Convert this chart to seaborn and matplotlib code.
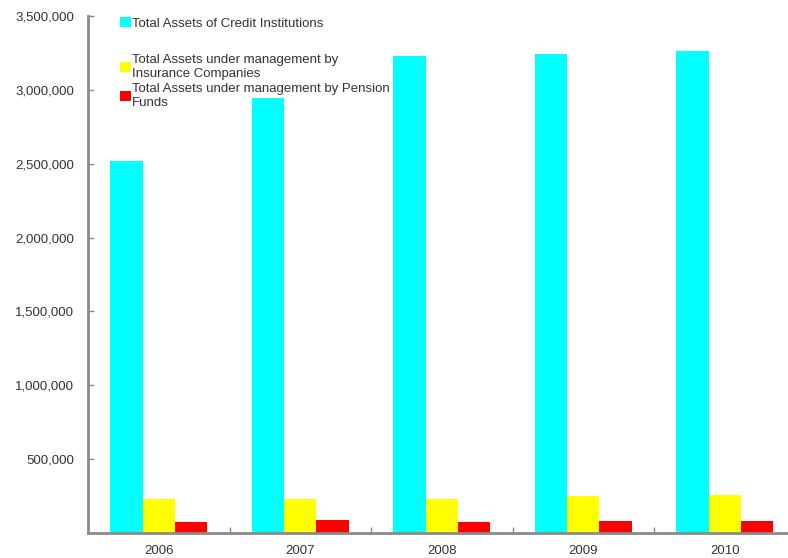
import matplotlib
matplotlib.use("Agg")
import matplotlib.pyplot as plt
import matplotlib.ticker as mticker
from matplotlib.patches import Patch
import numpy as np
import pandas as pd
import seaborn as sns

# Year categories and the three asset series (EUR thousands)
years = ["2006", "2007", "2008", "2009", "2010"]
credit_institutions = [2520000, 2944000, 3232000, 3245000, 3266000]
insurance_companies = [230000, 232000, 230000, 250000, 257000]
pension_funds = [74000, 85000, 74000, 82000, 78000]

series_names = [
    "Total Assets of Credit Institutions",
    "Total Assets under management by\nInsurance Companies",
    "Total Assets under management by Pension\nFunds",
]
series_colors = ["#00FFFF", "#FFFF00", "#FF0000"]
y_ticks = [500000, 1000000, 1500000, 2000000, 2500000, 3000000, 3500000]

df = pd.DataFrame({
    "year": years * 3,
    "value": credit_institutions + insurance_companies + pension_funds,
    "series": [series_names[0]] * 5 + [series_names[1]] * 5 + [series_names[2]] * 5,
})

sns.set_style("white")
plt.rcParams["font.family"] = ["Liberation Sans", "DejaVu Sans"]

fig = plt.figure(figsize=(7.88, 5.58), dpi=100)
ax = fig.add_axes([88 / 788, 1 - 533 / 558, 1 - 88 / 788, (533 - 16) / 558])

sns.barplot(data=df, x="year", y="value", hue="series", hue_order=series_names,
            palette=series_colors, width=0.686, saturation=1, ax=ax,
            legend=False, edgecolor="none")

ax.set_ylim(0, 3500000)
ax.set_xlim(-0.5, -0.5 + 700 / 141.5)
ax.set_yticks(y_ticks)
ax.yaxis.set_major_formatter(mticker.FuncFormatter(lambda v, p: f"{int(v):,}"))
ax.set_xlabel("")
ax.set_ylabel("")

# Spines: grey left and bottom only
for side in ["top", "right"]:
    ax.spines[side].set_visible(False)
for side in ["left", "bottom"]:
    ax.spines[side].set_color("#8a8a8a")
    ax.spines[side].set_linewidth(2)

ax.tick_params(axis="y", direction="in", length=4, width=1, color="#8a8a8a",
               pad=10, labelsize=9.5, labelcolor="#333333", left=True)
ax.tick_params(axis="x", which="major", length=0, pad=9, labelsize=9.5,
               labelcolor="#333333")
ax.set_xticks(np.arange(0.5, 4.5, 1.0), minor=True)
ax.tick_params(axis="x", which="minor", direction="in", length=4, width=1,
               color="#8a8a8a", bottom=True)

# Legend: first entry on its own, the other two grouped below it
leg_kw = dict(frameon=False, fontsize=9.5, handlelength=0.8, handleheight=0.8,
              handletextpad=0.1, borderpad=0, borderaxespad=0,
              labelcolor="#333333")
h = [Patch(facecolor=c, edgecolor="none") for c in series_colors]
leg1 = ax.legend([h[0]], [series_names[0]], loc="upper left",
                 bbox_to_anchor=((120 - 88) / 700, 1 - 1 / 517), **leg_kw)
ax.add_artist(leg1)
ax.legend(h[1:], series_names[1:], loc="upper left",
          bbox_to_anchor=((120 - 88) / 700, 1 - 38 / 517),
          labelspacing=0.25, **leg_kw)

fig.savefig("out.png", dpi=100)
